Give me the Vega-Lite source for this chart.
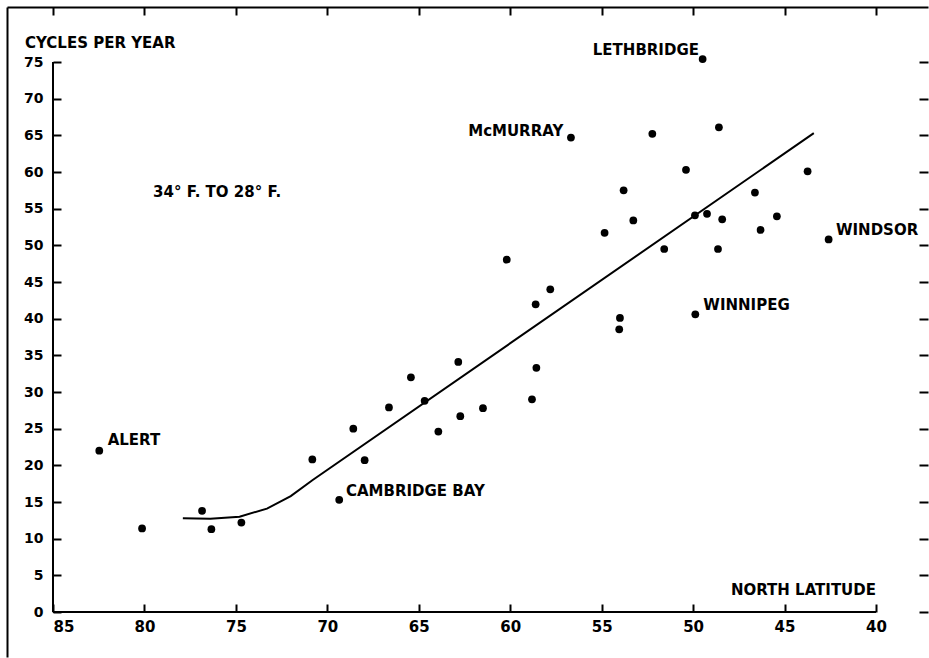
{
  "$schema": "https://vega.github.io/schema/vega-lite/v6.json",
  "width": 921,
  "height": 650,
  "autosize": "none",
  "padding": {"left": 7, "top": 7, "right": 1, "bottom": 1},
  "background": "white",
  "config": {
    "view": {"stroke": null},
    "axis": {
      "labelFont": "DejaVu Sans",
      "labelFontWeight": "bold",
      "labelFontSize": 14,
      "labelColor": "black",
      "tickColor": "black",
      "tickWidth": 2,
      "domainColor": "black",
      "domainWidth": 2,
      "grid": false,
      "labelOverlap": false
    },
    "text": {"font": "DejaVu Sans", "fontWeight": "bold", "fontSize": 15, "color": "black", "baseline": "middle"}
  },
  "datasets": {
    "points": [
      {"lat": 82.47, "cycles": 22.0}, {"lat": 80.13, "cycles": 11.4}, {"lat": 76.85, "cycles": 13.8},
      {"lat": 76.34, "cycles": 11.3}, {"lat": 74.70, "cycles": 12.2}, {"lat": 70.82, "cycles": 20.8},
      {"lat": 69.35, "cycles": 15.3}, {"lat": 68.58, "cycles": 25.0}, {"lat": 67.96, "cycles": 20.7},
      {"lat": 66.63, "cycles": 27.9}, {"lat": 65.43, "cycles": 32.0}, {"lat": 64.68, "cycles": 28.8},
      {"lat": 63.93, "cycles": 24.6}, {"lat": 62.84, "cycles": 34.1}, {"lat": 62.73, "cycles": 26.7},
      {"lat": 61.49, "cycles": 27.8}, {"lat": 60.19, "cycles": 48.05}, {"lat": 58.81, "cycles": 29.0},
      {"lat": 58.57, "cycles": 33.3}, {"lat": 58.61, "cycles": 41.96}, {"lat": 57.81, "cycles": 44.0},
      {"lat": 56.68, "cycles": 64.7}, {"lat": 54.84, "cycles": 51.7}, {"lat": 54.0, "cycles": 40.1},
      {"lat": 54.04, "cycles": 38.55}, {"lat": 53.8, "cycles": 57.5}, {"lat": 53.27, "cycles": 53.4},
      {"lat": 52.23, "cycles": 65.2}, {"lat": 51.58, "cycles": 49.5}, {"lat": 50.39, "cycles": 60.3},
      {"lat": 49.9, "cycles": 54.1}, {"lat": 49.88, "cycles": 40.6}, {"lat": 49.48, "cycles": 75.4},
      {"lat": 49.24, "cycles": 54.3}, {"lat": 48.59, "cycles": 66.1}, {"lat": 48.64, "cycles": 49.5},
      {"lat": 48.41, "cycles": 53.55}, {"lat": 46.62, "cycles": 57.2}, {"lat": 46.31, "cycles": 52.1},
      {"lat": 45.42, "cycles": 53.96}, {"lat": 43.74, "cycles": 60.1}, {"lat": 42.59, "cycles": 50.8}
    ],
    "fit": [
      {"lat": 77.9, "cycles": 12.8}, {"lat": 76.4, "cycles": 12.7}, {"lat": 74.8, "cycles": 13.0},
      {"lat": 73.3, "cycles": 14.1}, {"lat": 72.0, "cycles": 15.8}, {"lat": 70.8, "cycles": 18.0},
      {"lat": 43.4, "cycles": 65.3}
    ],
    "axislines": [
      {"lat": 85, "lat2": 85, "cycles": 0, "cycles2": 75},
      {"lat": 85, "lat2": 40, "cycles": 0, "cycles2": 0}
    ],
    "notesLeft": [
      {"lat": 86.53, "cycles": 77.55, "text": "CYCLES PER YEAR"},
      {"lat": 79.53, "cycles": 57.3, "text": "34° F.  TO  28° F."},
      {"lat": 42.19, "cycles": 52.1, "text": "WINDSOR"},
      {"lat": 49.44, "cycles": 41.9, "text": "WINNIPEG"},
      {"lat": 82.01, "cycles": 23.4, "text": "ALERT"},
      {"lat": 68.98, "cycles": 16.5, "text": "CAMBRIDGE BAY"}
    ],
    "notesRight": [
      {"lat": 40.0, "cycles": 3.0, "text": "NORTH LATITUDE"},
      {"lat": 49.68, "cycles": 76.7, "text": "LETHBRIDGE"},
      {"lat": 57.1, "cycles": 65.6, "text": "McMURRAY"}
    ]
  },
  "resolve": {"axis": {"x": "independent", "y": "independent"}},
  "layer": [
    {
      "data": {"name": "points"},
      "mark": {"type": "circle", "size": 60, "color": "black", "opacity": 1},
      "encoding": {
        "x": {"field": "lat", "type": "quantitative",
          "scale": {"domain": [37.157, 87.515], "reverse": true, "nice": false, "zero": false},
          "axis": {"orient": "bottom", "offset": -45, "values": [85, 80, 75, 70, 65, 60, 55, 50, 45, 40],
            "tickSize": -8, "labelPadding": 15, "labelFontSize": 15, "domain": false, "title": null,
            "labelAlign": {"expr": "datum.value == 85 ? 'left' : 'center'"}}},
        "y": {"field": "cycles", "type": "quantitative",
          "scale": {"domain": [-6.136, 82.5], "nice": false, "zero": false},
          "axis": {"orient": "left", "offset": -46, "values": [0, 5, 10, 15, 20, 25, 30, 35, 40, 45, 50, 55, 60, 65, 70, 75],
            "tickSize": -8, "labelPadding": 18, "domain": false, "title": null}}
      }
    },
    {
      "data": {"name": "fit"},
      "mark": {"type": "line", "color": "black", "strokeWidth": 2},
      "encoding": {
        "x": {"field": "lat", "type": "quantitative",
          "axis": {"orient": "top", "offset": 0, "values": [85, 80, 75, 70, 65, 60, 55, 50, 45, 40],
            "tickSize": -8, "labels": false, "domain": true, "title": null}},
        "y": {"field": "cycles", "type": "quantitative",
          "axis": {"orient": "right", "offset": 0, "values": [0, 5, 10, 15, 20, 25, 30, 35, 40, 45, 50, 55, 60, 65, 70, 75],
            "tickSize": -9, "labels": false, "domain": false, "title": null}}
      }
    },
    {
      "data": {"name": "axislines"},
      "mark": {"type": "rule", "color": "black", "strokeWidth": 2},
      "encoding": {
        "x": {"field": "lat", "type": "quantitative", "axis": null},
        "x2": {"field": "lat2"},
        "y": {"field": "cycles", "type": "quantitative",
          "axis": {"orient": "left", "offset": 0, "ticks": false, "labels": false, "domain": true, "title": null}},
        "y2": {"field": "cycles2"}
      }
    },
    {
      "data": {"name": "notesLeft"},
      "mark": {"type": "text", "align": "left"},
      "encoding": {
        "x": {"field": "lat", "type": "quantitative", "axis": null},
        "y": {"field": "cycles", "type": "quantitative", "axis": null},
        "text": {"field": "text"}
      }
    },
    {
      "data": {"name": "notesRight"},
      "mark": {"type": "text", "align": "right"},
      "encoding": {
        "x": {"field": "lat", "type": "quantitative", "axis": null},
        "y": {"field": "cycles", "type": "quantitative", "axis": null},
        "text": {"field": "text"}
      }
    }
  ]
}
